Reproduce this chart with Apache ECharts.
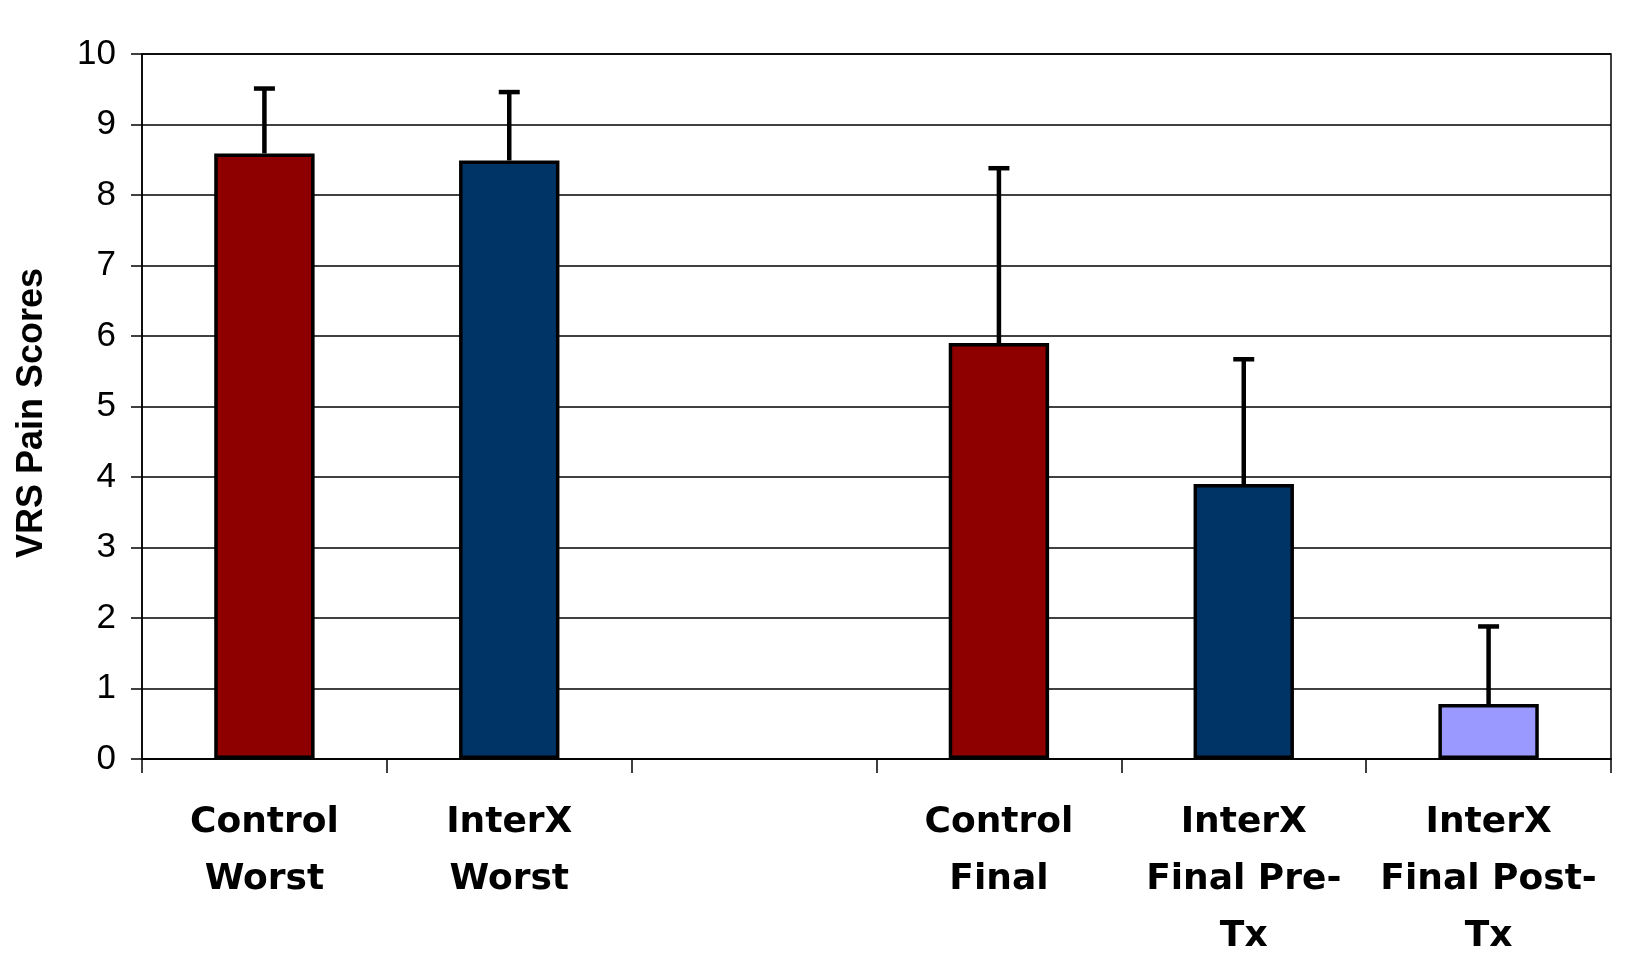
<!DOCTYPE html>
<html>
<head>
<meta charset="utf-8">
<script src="https://cdn.jsdelivr.net/npm/echarts@6/dist/echarts.min.js"></script>
<style>
  html, body { margin: 0; padding: 0; background: #fff; }
  #chart { width: 1649px; height: 977px; }
</style>
</head>
<body>
<div id="chart"></div>
<script>
var categories = ['Control\nWorst', 'InterX\nWorst', '', 'Control\nFinal', 'InterX\nFinal Pre-\nTx', 'InterX\nFinal Post-\nTx'];
var means = [8.59, 8.49, null, 5.9, 3.9, 0.78];
var upperErr = [9.51, 9.46, null, 8.38, 5.67, 1.88];
var barColors = ['#8e0000', '#003366', '#ffffff', '#8e0000', '#003366', '#9999ff'];
var yTicks = [0, 1, 2, 3, 4, 5, 6, 7, 8, 9, 10];

var barData = [];
var errData = [];
for (var i = 0; i < categories.length; i++) {
  if (means[i] == null) {
    barData.push('-');
    continue;
  }
  barData.push({ value: means[i], itemStyle: { color: barColors[i] } });
  errData.push([i, means[i], upperErr[i]]);
}

// stem + cap on top of each bar
function renderErr(params, api) {
  var base = api.coord([api.value(0), api.value(1)]);
  var top = api.coord([api.value(0), api.value(2)]);
  var half = 10.5;
  var st = { stroke: '#000', lineWidth: 4.5 };
  return {
    type: 'group',
    children: [
      { type: 'line', shape: { x1: base[0], y1: base[1], x2: top[0], y2: top[1] }, style: st },
      { type: 'line', shape: { x1: top[0] - half, y1: top[1], x2: top[0] + half, y2: top[1] }, style: st }
    ]
  };
}

var myChart = echarts.init(document.getElementById('chart'));
var option = {
  animation: false,
  backgroundColor: '#fff',
  grid: {
    left: 142, right: 38, top: 54, bottom: 218,
    show: true, borderColor: '#000', borderWidth: 1.5, backgroundColor: 'transparent'
  },
  xAxis: {
    type: 'category',
    data: categories,
    axisLine: { lineStyle: { color: '#000', width: 1.5 } },
    axisTick: { show: true, length: 14, lineStyle: { color: '#000', width: 1.5 } },
    axisLabel: {
      interval: 0,
      margin: 35,
      color: '#000',
      fontFamily: 'DejaVu Sans',
      fontWeight: 'bold',
      fontSize: 36,
      lineHeight: 57
    }
  },
  yAxis: {
    type: 'value',
    min: yTicks[0],
    max: yTicks[yTicks.length - 1],
    interval: 1,
    name: 'VRS Pain Scores',
    nameLocation: 'middle',
    nameGap: 92,
    nameTextStyle: {
      color: '#000',
      fontFamily: 'Liberation Sans, Arial, sans-serif',
      fontWeight: 'bold',
      fontSize: 36,
      padding: [0, 13, 0, 0]
    },
    axisLine: { show: true, lineStyle: { color: '#000', width: 1.5 } },
    axisTick: { show: true, length: 11, lineStyle: { color: '#000', width: 1.5 } },
    axisLabel: {
      margin: 26,
      color: '#000',
      fontFamily: 'Liberation Sans, Arial, sans-serif',
      fontSize: 35
    },
    splitLine: { lineStyle: { color: '#000', width: 1.5 } }
  },
  series: [
    {
      type: 'bar',
      data: barData,
      barWidth: '41%',
      itemStyle: { borderColor: '#000', borderWidth: 3.5 },
      z: 2
    },
    {
      type: 'custom',
      data: errData,
      renderItem: renderErr,
      z: 1
    }
  ]
};
myChart.setOption(option);
</script>
</body>
</html>
